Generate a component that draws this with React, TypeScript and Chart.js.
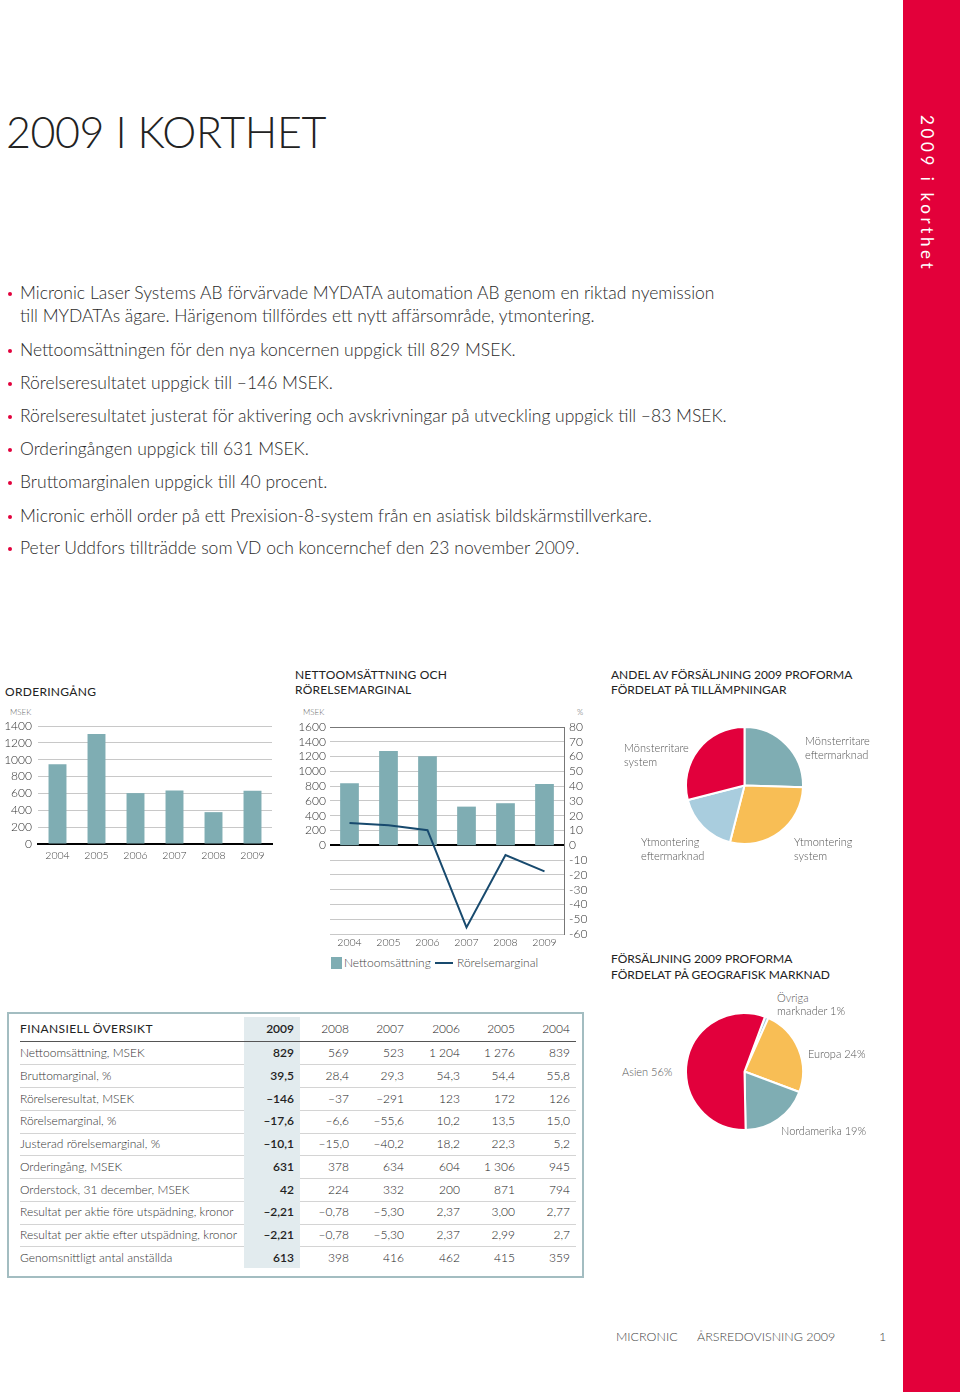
import React, { useEffect, useRef } from 'react';
import { Chart, registerables } from 'chart.js';

Chart.register(...registerables);
Chart.defaults.font.family = 'Lato, "Open Sans", sans-serif';

// ---------- data ----------
const years = ['2004', '2005', '2006', '2007', '2008', '2009'];
const orderIntake = [945, 1306, 604, 634, 378, 631];
const netSales = [839, 1276, 1204, 523, 569, 829];
const operatingMargin = [15.0, 13.5, 10.2, -55.6, -6.6, -17.6];

const appLabels = ['Mönsterritare eftermarknad', 'Ytmontering system', 'Ytmontering eftermarknad', 'Mönsterritare system'];
const appShares = [25.5, 28.5, 17, 29];

const geoLabels = ['Övriga marknader', 'Europa', 'Nordamerika', 'Asien'];
const geoShares = [1, 24, 19, 56];

const tableYears = ['2009', '2008', '2007', '2006', '2005', '2004'];
const tableLabels = [
  'Nettoomsättning, MSEK',
  'Bruttomarginal, %',
  'Rörelseresultat, MSEK',
  'Rörelsemarginal, %',
  'Justerad rörelsemarginal, %',
  'Orderingång, MSEK',
  'Orderstock, 31 december, MSEK',
  'Resultat per aktie före utspädning, kronor',
  'Resultat per aktie efter utspädning, kronor',
  'Genomsnittligt antal anställda',
];
const tableValues = [
  ['829', '569', '523', '1 204', '1 276', '839'],
  ['39,5', '28,4', '29,3', '54,3', '54,4', '55,8'],
  ['–146', '–37', '–291', '123', '172', '126'],
  ['–17,6', '–6,6', '–55,6', '10,2', '13,5', '15,0'],
  ['–10,1', '–15,0', '–40,2', '18,2', '22,3', '5,2'],
  ['631', '378', '634', '604', '1 306', '945'],
  ['42', '224', '332', '200', '871', '794'],
  ['–2,21', '–0,78', '–5,30', '2,37', '3,00', '2,77'],
  ['–2,21', '–0,78', '–5,30', '2,37', '2,99', '2,7'],
  ['613', '398', '416', '462', '415', '359'],
];

const bullets = [
  ['Micronic Laser Systems AB förvärvade MYDATA automation AB genom en riktad nyemission', 'till MYDATAs ägare. Härigenom tillfördes ett nytt affärsområde, ytmontering.'],
  ['Nettoomsättningen för den nya koncernen uppgick till 829 MSEK.'],
  ['Rörelseresultatet uppgick till –146 MSEK.'],
  ['Rörelseresultatet justerat för aktivering och avskrivningar på utveckling uppgick till –83 MSEK.'],
  ['Orderingången uppgick till 631 MSEK.'],
  ['Bruttomarginalen uppgick till 40 procent.'],
  ['Micronic erhöll order på ett Prexision-8-system från en asiatisk bildskärmstillverkare.'],
  ['Peter Uddfors tillträdde som VD och koncernchef den 23 november 2009.'],
];

// ---------- style ----------
const TEAL = '#7FADB3';
const RED = '#E2003C';
const ORANGE = '#F8BE55';
const LIGHTBLUE = '#A9CDDE';
const NAVY = '#184A6E';
const GRID = '#c8c8c8';
const TEXT = '#333';
const FONT = 'Lato, "Open Sans", sans-serif';

function ChartBox({ config, left, top, width, height }: any) {
  const ref = useRef<HTMLCanvasElement>(null);
  useEffect(() => {
    const chart = new Chart(ref.current as HTMLCanvasElement, config);
    return () => chart.destroy();
  }, []);
  return (
    <canvas
      ref={ref}
      width={width}
      height={height}
      style={{ position: 'absolute', left, top, width, height }}
    />
  );
}

const orderConfig: any = {
  type: 'bar',
  data: {
    labels: years,
    datasets: [{ data: orderIntake, backgroundColor: TEAL, categoryPercentage: 1, barPercentage: 0.46 }],
  },
  options: {
    animation: false,
    responsive: false,
    layout: { padding: { left: 0, right: 13, top: 26, bottom: 6 } },
    plugins: { legend: { display: false }, tooltip: { enabled: false } },
    scales: {
      x: {
        grid: { display: false, drawTicks: false },
        border: { display: true, color: '#000', width: 2 },
        ticks: { font: { size: 10.5, weight: 300 }, color: '#444', padding: 5 },
        afterFit: (s: any) => { s.height = 20; },
      },
      y: {
        min: 0, max: 1400,
        ticks: { stepSize: 200, autoSkip: false, padding: 6, font: { size: 12, weight: 300 }, color: TEXT, callback: (v: any) => String(v) },
        grid: { color: GRID, drawTicks: false },
        border: { display: false },
        afterFit: (s: any) => { s.width = 38; },
      },
    },
  },
};

const salesConfig: any = {
  type: 'bar',
  data: {
    labels: years,
    datasets: [
      { type: 'line', label: 'Rörelsemarginal', data: operatingMargin, yAxisID: 'y1', borderColor: NAVY, borderWidth: 2, pointRadius: 0, order: 0 },
      { type: 'bar', label: 'Nettoomsättning', data: netSales, yAxisID: 'y', backgroundColor: TEAL, categoryPercentage: 1, barPercentage: 0.48, order: 1 },
    ],
  },
  options: {
    animation: false,
    responsive: false,
    layout: { padding: { left: 0, right: 0, top: 27, bottom: 3 } },
    plugins: { legend: { display: false }, tooltip: { enabled: false } },
    scales: {
      x: {
        grid: { display: false, drawTicks: false },
        border: { display: false },
        ticks: { font: { size: 10.5, weight: 300 }, color: '#444', padding: 2 },
        afterFit: (s: any) => { s.height = 18; },
      },
      y: {
        position: 'left',
        min: -1200, max: 1600,
        ticks: { stepSize: 200, autoSkip: false, padding: 4, font: { size: 12, weight: 300 }, color: TEXT, callback: (v: any) => (v >= 0 ? String(v) : '') },
        grid: { display: false, drawTicks: false },
        border: { display: false },
        afterFit: (s: any) => { s.width = 40; },
      },
      y1: {
        position: 'right',
        min: -60, max: 80,
        ticks: { stepSize: 10, autoSkip: false, padding: 5, font: { size: 12, weight: 300 }, color: TEXT, callback: (v: any) => String(v) },
        grid: {
          drawTicks: false,
          color: (c: any) => (c.tick && c.tick.value === 0 ? '#000' : c.tick && c.tick.value === 80 ? '#777' : GRID),
          lineWidth: (c: any) => (c.tick && c.tick.value === 0 ? 2 : 1),
        },
        border: { display: true, color: '#777', width: 1 },
        afterFit: (s: any) => { s.width = 36; },
      },
    },
  },
};

const pieOptions = (rotation: number): any => ({
  animation: false,
  responsive: false,
  rotation,
  layout: { padding: 0 },
  plugins: { legend: { display: false }, tooltip: { enabled: false } },
});

const appConfig: any = {
  type: 'pie',
  data: {
    labels: appLabels,
    datasets: [{ data: appShares, backgroundColor: [TEAL, ORANGE, LIGHTBLUE, RED], borderColor: '#fff', borderWidth: 2 }],
  },
  options: pieOptions(0),
};

const geoConfig: any = {
  type: 'pie',
  data: {
    labels: geoLabels,
    datasets: [{ data: geoShares, backgroundColor: [LIGHTBLUE, ORANGE, TEAL, RED], borderColor: '#fff', borderWidth: 2 }],
  },
  options: pieOptions(20.5),
};

const abs = (left: number, top: number, extra: any = {}): any => ({ position: 'absolute', left, top, whiteSpace: 'nowrap', ...extra });

function Txt({ x, y, size = 12, weight = 300, color = TEXT, lh, children, style = {} }: any) {
  const lineH = lh || Math.round(size * 1.2);
  return (
    <div style={abs(x, y - lineH / 2, { fontSize: size, fontWeight: weight, color, lineHeight: lineH + 'px', ...style })}>
      {children}
    </div>
  );
}

const colRight = [294, 349, 404, 460, 515, 570];
const rowY0 = 1053;
const rowStep = 22.75;

export default function App() {
  return (
    <div style={{ position: 'absolute', left: 0, top: 0, width: 960, height: 1392, overflow: 'hidden', background: '#fff', fontFamily: FONT, color: TEXT }}>
      {/* red side band */}
      <div style={{ position: 'absolute', left: 903, top: 0, width: 57, height: 1392, background: '#E3003A' }} />
      <div style={abs(917, 115, { writingMode: 'vertical-rl', color: '#fff', fontSize: 17, letterSpacing: 3.6, fontWeight: 400, lineHeight: '20px' })}>
        2009 i korthet
      </div>

      {/* title */}
      <div style={abs(6, 107, { fontSize: 43, fontWeight: 300, color: '#222', lineHeight: '50px', letterSpacing: -0.4 })}>2009 I KORTHET</div>

      {/* bullets */}
      {(() => {
        const ys = [293, 350, 383, 416, 449, 482, 516, 548];
        return bullets.map((b, i) => (
          <React.Fragment key={i}>
            <div style={{ position: 'absolute', left: 8, top: ys[i] - 1, width: 4, height: 4, borderRadius: 2, background: RED }} />
            {b.map((line, j) => (
              <Txt key={j} x={20} y={ys[i] + j * 23} size={17.5} lh={22} color="#2a2a2a">{line}</Txt>
            ))}
          </React.Fragment>
        ));
      })()}

      {/* Orderingång */}
      <Txt x={5} y={692} size={12} weight={400} color="#222" style={{ letterSpacing: 0.3 }}>ORDERINGÅNG</Txt>
      <Txt x={10} y={712} size={8} color="#666">MSEK</Txt>
      <ChartBox config={orderConfig} left={0} top={700} width={285} height={170} />

      {/* Nettoomsättning */}
      <Txt x={295} y={675} size={12} weight={400} color="#222" style={{ letterSpacing: 0.2 }}>NETTOOMSÄTTNING OCH</Txt>
      <Txt x={295} y={690} size={12} weight={400} color="#222" style={{ letterSpacing: 0.2 }}>RÖRELSEMARGINAL</Txt>
      <Txt x={303} y={712} size={8} color="#666">MSEK</Txt>
      <Txt x={577} y={712} size={8} color="#666">%</Txt>
      <ChartBox config={salesConfig} left={290} top={700} width={310} height={255} />
      <div style={{ position: 'absolute', left: 331, top: 957, width: 11, height: 12, background: TEAL }} />
      <Txt x={344} y={963} size={12} color="#444">Nettoomsättning</Txt>
      <div style={{ position: 'absolute', left: 435, top: 962, width: 18, height: 2, background: NAVY }} />
      <Txt x={457} y={963} size={12} color="#444">Rörelsemarginal</Txt>

      {/* Pie 1 */}
      <Txt x={611} y={675} size={12} weight={400} color="#222">ANDEL AV FÖRSÄLJNING 2009 PROFORMA</Txt>
      <Txt x={611} y={690} size={12} weight={400} color="#222">FÖRDELAT PÅ TILLÄMPNINGAR</Txt>
      <ChartBox config={appConfig} left={685} top={726} width={119} height={119} />
      <Txt x={624} y={747} size={11} color="#555">Mönsterritare</Txt>
      <Txt x={624} y={761} size={11} color="#555">system</Txt>
      <Txt x={805} y={740} size={11} color="#555">Mönsterritare</Txt>
      <Txt x={805} y={754} size={11} color="#555">eftermarknad</Txt>
      <Txt x={641} y={841} size={11} color="#555">Ytmontering</Txt>
      <Txt x={641} y={855} size={11} color="#555">eftermarknad</Txt>
      <Txt x={794} y={841} size={11} color="#555">Ytmontering</Txt>
      <Txt x={794} y={855} size={11} color="#555">system</Txt>

      {/* Pie 2 */}
      <Txt x={611} y={959} size={12} weight={400} color="#222">FÖRSÄLJNING 2009 PROFORMA</Txt>
      <Txt x={611} y={975} size={12} weight={400} color="#222">FÖRDELAT PÅ GEOGRAFISK MARKNAD</Txt>
      <ChartBox config={geoConfig} left={685} top={1012} width={119} height={119} />
      <Txt x={777} y={997} size={11} color="#555">Övriga</Txt>
      <Txt x={777} y={1010} size={11} color="#555">marknader 1%</Txt>
      <Txt x={808} y={1053} size={11} color="#555">Europa 24%</Txt>
      <Txt x={622} y={1071} size={11} color="#555">Asien 56%</Txt>
      <Txt x={781} y={1130} size={11} color="#555">Nordamerika 19%</Txt>

      {/* Table */}
      <div style={{ position: 'absolute', left: 7, top: 1012, width: 573, height: 262, border: '2px solid #A3BDC1' }} />
      <div style={{ position: 'absolute', left: 244, top: 1017, width: 56, height: 251, background: '#E2EBEE' }} />
      <Txt x={20} y={1029} size={12} weight={400} color="#222" style={{ letterSpacing: 0.4 }}>FINANSIELL ÖVERSIKT</Txt>
      {tableYears.map((yr, c) => (
        <div key={yr} style={abs(colRight[c] - 60, 1029 - 8, { width: 60, textAlign: 'right', fontSize: 12, lineHeight: '16px', fontWeight: c === 0 ? 600 : 300, color: '#222' })}>{yr}</div>
      ))}
      <div style={{ position: 'absolute', left: 20, top: 1041, width: 556, height: 1, background: '#555' }} />
      {tableLabels.map((lab, r) => {
        const cy = rowY0 + r * rowStep;
        return (
          <React.Fragment key={lab}>
            <Txt x={20} y={cy} size={12} color="#333">{lab}</Txt>
            {tableValues[r].map((v, c) => (
              <div key={c} style={abs(colRight[c] - 60, cy - 8, { width: 60, textAlign: 'right', fontSize: 12, lineHeight: '16px', fontWeight: c === 0 ? 600 : 300, color: '#222' })}>{v}</div>
            ))}
            {r < tableLabels.length - 1 && (
              <>
                <div style={{ position: 'absolute', left: 20, top: Math.round(cy + rowStep / 2), width: 224, height: 1, background: '#d4d4d4' }} />
                <div style={{ position: 'absolute', left: 300, top: Math.round(cy + rowStep / 2), width: 276, height: 1, background: '#d4d4d4' }} />
              </>
            )}
          </React.Fragment>
        );
      })}

      {/* footer */}
      <Txt x={616} y={1336} size={12.5} color="#444">MICRONIC</Txt>
      <Txt x={697} y={1336} size={12.5} color="#444">ÅRSREDOVISNING 2009</Txt>
      <Txt x={879} y={1336} size={12.5} color="#444">1</Txt>
    </div>
  );
}
